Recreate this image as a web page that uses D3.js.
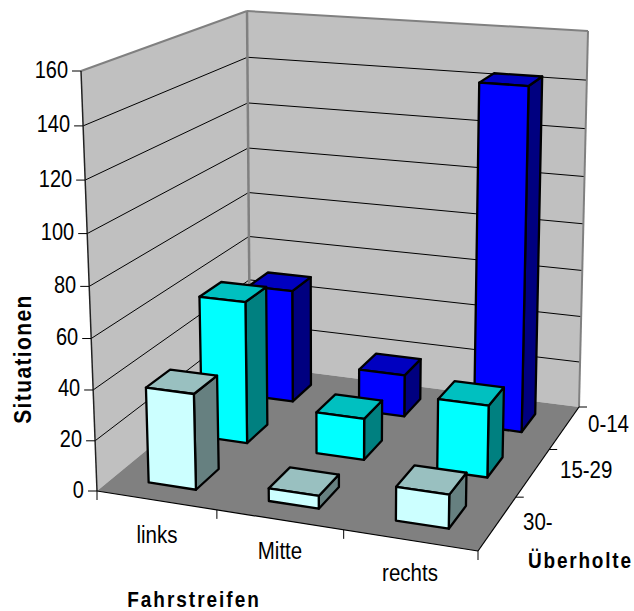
<!DOCTYPE html>
<html><head><meta charset="utf-8">
<script src="https://cdn.jsdelivr.net/npm/d3@7"></script>
<style>html,body{margin:0;padding:0;background:#fff}svg{display:block}</style>
</head><body><svg id="c" width="634" height="611"></svg>
<script>
const categories = ["links","Mitte","rechts"];
const depthLabels = ["30-","15-29","0-14"];
const yTicks = [0,20,40,60,80,100,120,140,160];
const values0to14 = [49, 18, 143];
const values15to29 = [59, 17, 29];
const values30plus = [38, 5, 13];
const seriesColors = {
  "0-14":{front:"#0000ff",top:"#0000c0",side:"#000080"},
  "15-29":{front:"#00ffff",top:"#00c0c0",side:"#008080"},
  "30-":{front:"#ccffff",top:"#99c0c0",side:"#668080"}
};
const seriesValues = {"30-":values30plus,"15-29":values15to29,"0-14":values0to14};

// screen corners of the chart box: floor quad and top quad
const floorQuad=[[97,491],[478,551],[579,407],[250,365]];
const topQuad=[[81,71],[486,100],[588,31],[247,11]];

function homography(q){
  const [[x0,y0],[x1,y1],[x2,y2],[x3,y3]]=q;
  const dx1=x1-x2,dx2=x3-x2,sx=x0-x1+x2-x3,dy1=y1-y2,dy2=y3-y2,sy=y0-y1+y2-y3;
  const den=dx1*dy2-dx2*dy1;
  const g=(sx*dy2-dx2*sy)/den,h=(dx1*sy-sx*dy1)/den;
  const m=[x1-x0+g*x1,x3-x0+h*x3,x0,y1-y0+g*y1,y3-y0+h*y3,y0,g,h,1];
  return (x,z)=>{const w=m[6]*x+m[7]*z+m[8];return [(m[0]*x+m[1]*z+m[2])/w,(m[3]*x+m[4]*z+m[5])/w];};
}
const hFloor=homography(floorQuad),hTop=homography(topQuad);
const warp=(t,a)=>a*t/(1+(a-1)*t);
function proj(x,y,z){
  const u=warp(x,0.99),g=warp(y,0.95);
  const a=hFloor(u,z),b=hTop(u,z);
  return [a[0]+(b[0]-a[0])*g,a[1]+(b[1]-a[1])*g];
}

const xS=d3.scaleBand().domain(categories).range([0,1]).paddingInner(0.6).paddingOuter(0.3);
const zS=d3.scaleBand().domain(depthLabels).range([0,1]).paddingInner(0.57).paddingOuter(0.285);
const xCell=d3.scaleBand().domain(categories).range([0,1]);
const zCell=d3.scaleBand().domain(depthLabels).range([0,1]);
const yS=d3.scaleLinear().domain([0,160]).range([0,1]);

const svg=d3.select("#c");
const poly=(pts,fill,stroke,sw)=>svg.append("path")
  .attr("d","M"+pts.map(p=>p.map(v=>v.toFixed(2)).join(",")).join("L")+"Z")
  .attr("fill",fill).attr("stroke",stroke||"none").attr("stroke-width",sw||0).attr("stroke-linejoin","round");
const line=(a,b,stroke,sw)=>svg.append("line").attr("x1",a[0]).attr("y1",a[1]).attr("x2",b[0]).attr("y2",b[1])
  .attr("stroke",stroke).attr("stroke-width",sw);
const font="'Liberation Sans',Arial,sans-serif";
const label=(t,x,y,anchor,size,bold,ls,rot)=>svg.append("text")
  .attr("transform",`translate(${x},${y})${rot?" rotate(-90)":""} scale(1,1.17)`).attr("text-anchor",anchor)
  .attr("font-family",font).attr("font-size",size).attr("font-weight",bold?"bold":"normal")
  .attr("letter-spacing",ls||0).attr("fill","#000").text(t);

// walls and floor
poly([proj(0,0,0),proj(0,1,0),proj(0,1,1),proj(0,0,1)],"#c0c0c0");
poly([proj(0,0,1),proj(0,1,1),proj(1,1,1),proj(1,0,1)],"#c0c0c0");
poly([proj(0,0,0),proj(1,0,0),proj(1,0,1),proj(0,0,1)],"#808080");
// gridlines
yTicks.slice(1,-1).forEach(t=>{
  const y=yS(t);
  line(proj(0,y,0),proj(0,y,1),"#000",1);
  line(proj(0,y,1),proj(1,y,1),"#000",1);
});
// wall borders
line(proj(0,1,0),proj(0,1,1),"#808080",2);
line(proj(0,1,1),proj(1,1,1),"#808080",2);
line(proj(0,0,1),proj(0,1,1),"#808080",2.5);
line(proj(1,0,1),proj(1,1,1),"#808080",2);
// axes
line(proj(0,0,0),proj(0,1,0),"#222",1.5);
line(proj(0,0,0),proj(1,0,0),"#000",1.2);
line(proj(1,0,0),proj(1,0,1),"#000",1.2);

// bars, back row first
depthLabels.slice().reverse().forEach(s=>{
  const col=seriesColors[s],vals=seriesValues[s];
  const z0=zS(s),z1=z0+zS.bandwidth();
  categories.slice().reverse().forEach(c=>{
    const i=categories.indexOf(c);
    const x0=xS(c),x1=x0+xS.bandwidth(),h=yS(vals[i]);
    poly([proj(x1,0,z0),proj(x1,0,z1),proj(x1,h,z1),proj(x1,h,z0)],col.side,"#000",2.3);
    poly([proj(x0,h,z0),proj(x1,h,z0),proj(x1,h,z1),proj(x0,h,z1)],col.top,"#000",2.3);
    poly([proj(x0,0,z0),proj(x1,0,z0),proj(x1,h,z0),proj(x0,h,z0)],col.front,"#000",2.3);
  });
});

// value ticks and labels
yTicks.forEach(t=>{
  const p=proj(0,yS(t),0);
  line([p[0]-9,p[1]],p,"#000",1);
  label(t,p[0]-13,p[1]+6.5,"end",20);
});
// category ticks and labels
[0,...categories.map(c=>xCell(c)+xCell.bandwidth())].forEach(v=>{
  const p=proj(v,0,0);
  line(p,[p[0],p[1]+9],"#000",1);
});
const catPos={links:[157,543],Mitte:[280,559],rechts:[410,581]};
categories.forEach(c=>label(c,catPos[c][0],catPos[c][1],"middle",20.5));
// depth ticks and labels
depthLabels.forEach(d=>{
  const p=proj(1,0,zCell(d)+zCell.bandwidth());
  line(p,[p[0]+8,p[1]],"#000",1);
});
const depthPos={"0-14":[588,432],"15-29":[560,478],"30-":[523,530]};
depthLabels.forEach(d=>label(d,depthPos[d][0],depthPos[d][1],"start",20.5));
// titles
label("Fahrstreifen",194,606.5,"middle",19,true,2);
label("Überholte",528,568,"start",19,true,1.8);
label("Situationen",31,359,"middle",21,true,1.4,true);
</script></body></html>
